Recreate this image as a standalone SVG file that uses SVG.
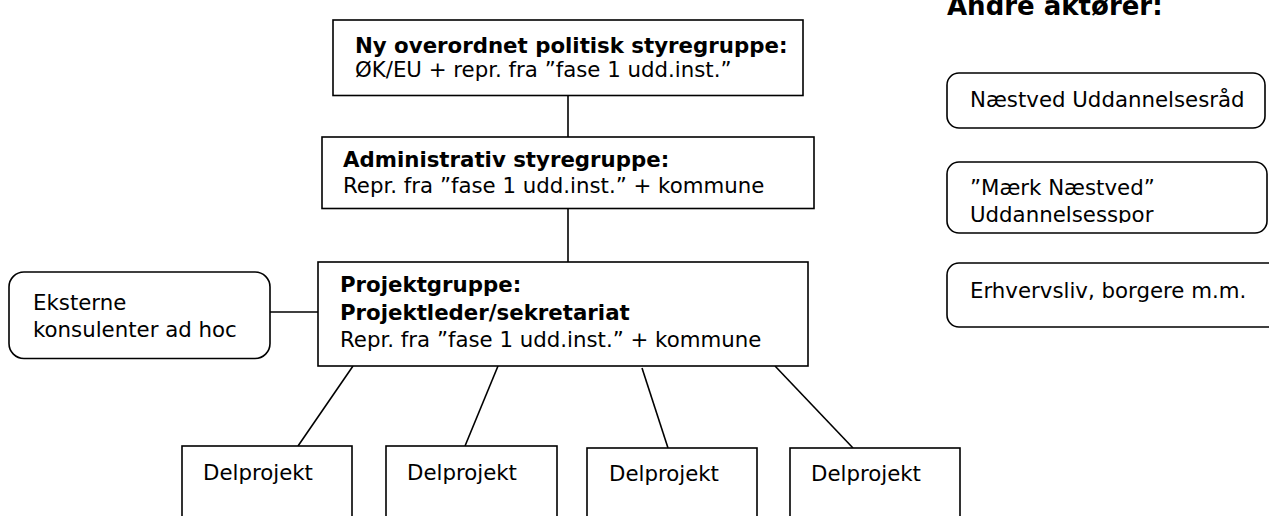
<svg xmlns="http://www.w3.org/2000/svg" width="1269" height="516" viewBox="0 0 1269 516">
<style>
.box{fill:#fff;stroke:#000;stroke-width:1.6}
.ln{stroke:#000;stroke-width:1.6;fill:none}
text{font-family:"DejaVu Sans","Verdana",sans-serif;font-size:21.3px;fill:#000}
.b{font-weight:bold}
</style>
<defs>
<clipPath id="clipMaerk"><rect x="947" y="162" width="322" height="61"/></clipPath>
</defs>
<rect width="1269" height="516" fill="#fff"/>
<g id="connectors">
<line class="ln" x1="568" y1="95.5" x2="568" y2="137"/>
<line class="ln" x1="568" y1="208.5" x2="568" y2="262"/>
<line class="ln" x1="270" y1="312" x2="318" y2="312"/>
<line class="ln" x1="353" y1="366" x2="298" y2="446"/>
<line class="ln" x1="498" y1="366" x2="465" y2="446"/>
<line class="ln" x1="642" y1="368" x2="668" y2="448"/>
<line class="ln" x1="775" y1="366" x2="853" y2="448"/>
</g>
<g id="politisk">
<rect class="box" x="333" y="20" width="470" height="75.5"/>
<text class="b" x="355" y="53">Ny overordnet politisk styregruppe:</text>
<text x="355" y="77">ØK/EU + repr. fra ”fase 1 udd.inst.”</text>
</g>
<g id="administrativ">
<rect class="box" x="322" y="137" width="492" height="71.5"/>
<text class="b" x="343" y="167">Administrativ styregruppe:</text>
<text x="343" y="193">Repr. fra ”fase 1 udd.inst.” + kommune</text>
</g>
<g id="projektgruppe">
<rect class="box" x="318" y="262" width="490" height="104"/>
<text class="b" x="340" y="292">Projektgruppe:</text>
<text class="b" x="340" y="320">Projektleder/sekretariat</text>
<text x="340" y="347">Repr. fra ”fase 1 udd.inst.” + kommune</text>
</g>
<g id="eksterne">
<rect class="box" x="9" y="272" width="261" height="86.5" rx="15"/>
<text x="33" y="310">Eksterne</text>
<text x="33" y="337">konsulenter ad hoc</text>
</g>
<g id="delprojekt1">
<rect class="box" x="182" y="446" width="170" height="100"/>
<text x="203" y="480">Delprojekt</text>
</g>
<g id="delprojekt2">
<rect class="box" x="386" y="446" width="171" height="100"/>
<text x="407" y="480">Delprojekt</text>
</g>
<g id="delprojekt3">
<rect class="box" x="587" y="448" width="170" height="100"/>
<text x="609" y="481">Delprojekt</text>
</g>
<g id="delprojekt4">
<rect class="box" x="790" y="448" width="170" height="100"/>
<text x="811" y="481">Delprojekt</text>
</g>
<g id="andre">
<text class="b" x="947" y="15" style="font-size:26px">Andre aktører:</text>
</g>
<g id="naestved">
<rect class="box" x="947" y="73" width="318" height="55" rx="12"/>
<text x="970" y="107">Næstved Uddannelsesråd</text>
</g>
<g id="maerk">
<rect class="box" x="947" y="162" width="320" height="71" rx="12"/>
<g clip-path="url(#clipMaerk)">
<text x="970" y="195">”Mærk Næstved”</text>
<text x="970" y="222">Uddannelsesspor</text>
</g>
</g>
<g id="erhvervsliv">
<rect class="box" x="947" y="263" width="340" height="64" rx="12"/>
<text x="970" y="298">Erhvervsliv, borgere m.m.</text>
</g>
</svg>
